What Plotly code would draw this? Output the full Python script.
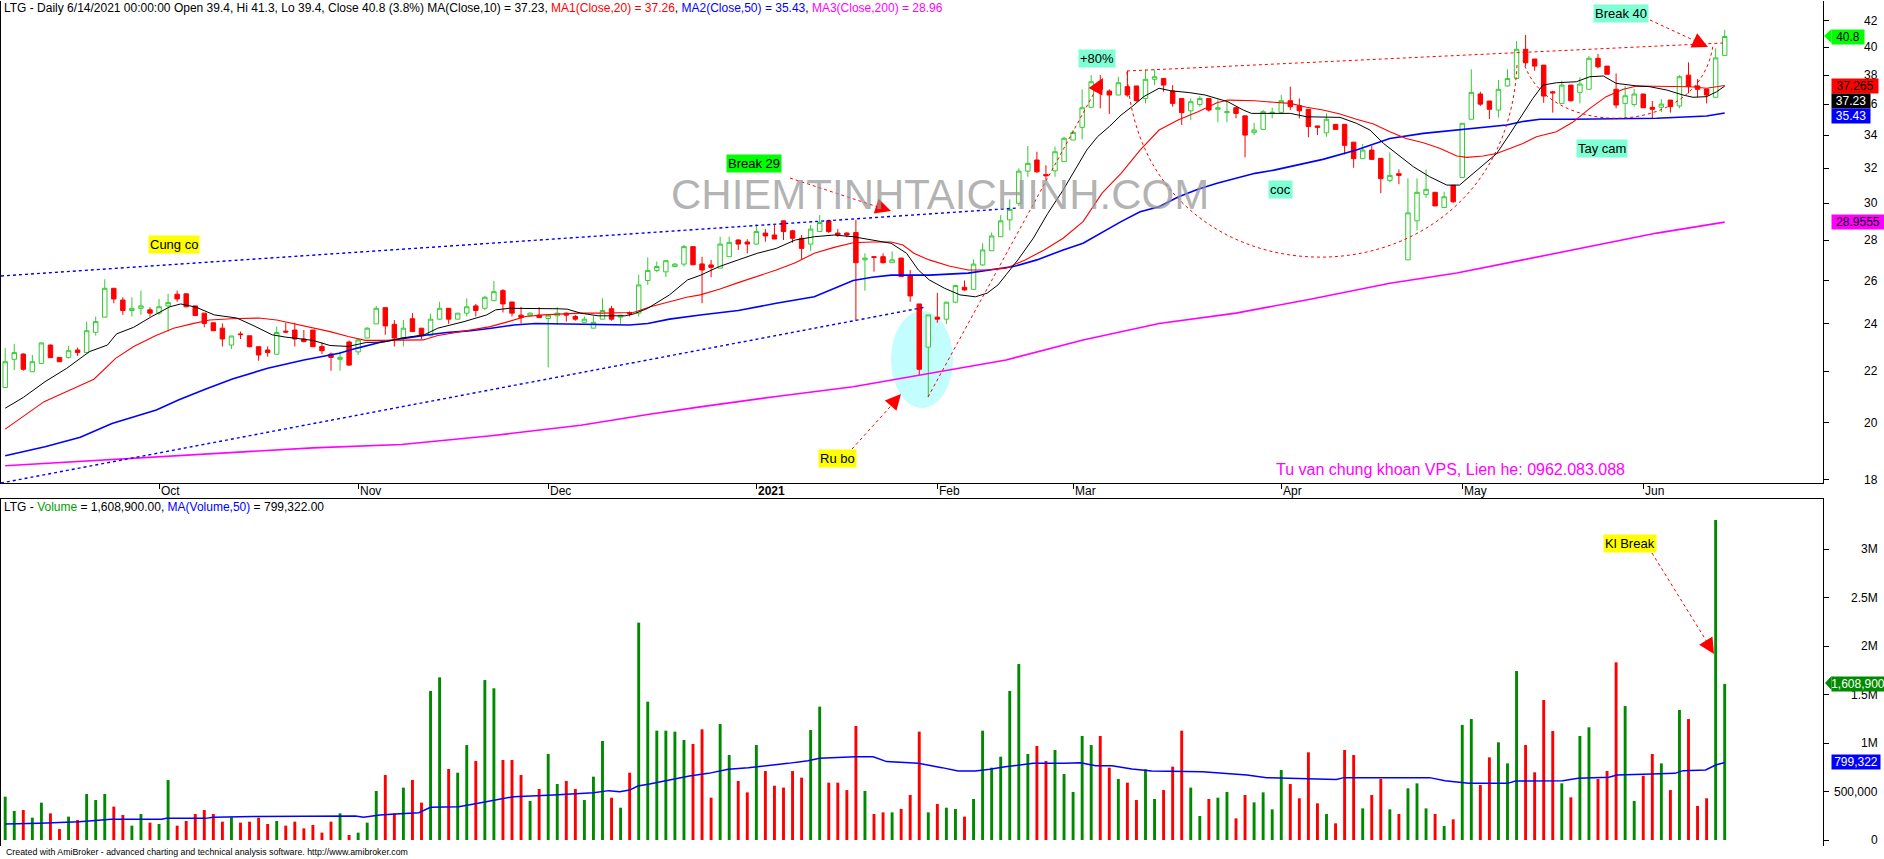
import math
import plotly.graph_objects as go

# ---------------- data ----------------
OPEN = [21.34, 22.48, 22.70, 21.97, 22.31, 23.08, 22.56, 22.56, 22.87, 22.76,
        23.63, 24.30, 25.63, 25.08, 24.60, 24.70, 24.63, 24.48, 24.81, 25.35,
        25.37, 24.81, 24.48, 24.05, 23.81, 23.08, 23.56, 23.48, 23.01, 22.87,
        22.69, 23.68, 23.73, 23.34, 23.73, 23.02, 22.70, 22.48, 23.21, 22.79,
        23.38, 24.00, 24.73, 23.98, 23.38, 24.23, 23.81, 23.48, 24.21, 24.70,
        24.21, 24.48, 24.81, 24.70, 25.05, 25.52, 24.99, 24.39, 24.37, 24.39,
        24.24, 24.36, 24.48, 24.33, 24.07, 23.81, 24.21, 24.68, 24.30, 24.51,
        24.48, 26.00, 26.49, 26.42, 26.68, 26.80, 27.68, 26.81, 26.76, 26.60,
        27.17, 28.02, 27.92, 27.81, 28.38, 28.28, 29.03, 28.50, 28.11, 27.81,
        28.46, 29.03, 28.38, 28.38, 28.41, 27.01, 27.17, 27.17, 26.87, 27.10,
        26.22, 24.90, 22.99, 24.30, 24.21, 24.98, 25.68, 25.58, 26.76, 27.47,
        28.19, 29.08, 29.98, 31.82, 32.48, 31.62, 31.84, 32.38, 33.70, 34.50,
        35.80, 37.53, 36.89, 36.62, 37.19, 37.24, 36.39, 37.70, 37.76, 36.89,
        36.39, 35.57, 35.99, 36.39, 35.67, 35.45, 35.77, 35.24, 34.18, 34.37,
        35.43, 35.47, 36.24, 35.90, 35.67, 34.59, 34.15, 34.69, 34.69, 33.57,
        32.56, 33.08, 32.58, 31.28, 31.67, 27.01, 29.03, 30.48, 30.60, 29.75,
        31.00, 31.45, 35.02, 36.69, 36.22, 35.62, 37.24, 37.76, 39.85, 39.14,
        38.70, 36.84, 36.06, 37.30, 36.80, 37.01, 39.19, 38.63, 37.01, 36.06,
        35.99, 36.69, 35.80, 35.80, 36.28, 35.89, 37.99, 37.24, 37.03, 36.47,
        39.40]
HIGH = [22.95, 23.13, 22.73, 22.66, 23.19, 23.10, 22.56, 23.05, 22.97, 24.10,
        24.33, 26.06, 25.63, 25.21, 25.21, 25.52, 24.75, 25.13, 25.37, 25.52,
        25.37, 24.81, 24.48, 24.05, 24.02, 23.47, 23.66, 23.48, 23.01, 23.02,
        23.88, 24.05, 24.05, 23.73, 23.73, 23.19, 22.76, 22.80, 23.28, 23.34,
        23.85, 24.81, 24.75, 24.17, 24.17, 24.48, 23.81, 24.45, 25.00, 24.70,
        24.48, 25.16, 24.90, 25.27, 25.98, 25.59, 24.99, 24.77, 24.51, 24.75,
        24.40, 24.75, 24.51, 24.40, 24.33, 24.36, 25.16, 24.81, 24.39, 24.56,
        26.28, 27.14, 26.93, 26.97, 26.85, 27.77, 27.68, 27.17, 27.01, 28.19,
        28.19, 28.06, 28.06, 28.85, 28.59, 28.85, 29.03, 28.55, 28.28, 28.81,
        29.34, 29.08, 28.59, 28.43, 29.08, 27.34, 27.20, 27.34, 27.43, 27.10,
        26.51, 24.90, 24.40, 25.42, 25.00, 25.79, 26.00, 27.04, 27.85, 28.41,
        29.34, 30.20, 31.98, 33.33, 32.98, 32.17, 33.29, 33.91, 34.33, 37.01,
        37.99, 38.00, 37.01, 37.88, 38.30, 37.24, 38.40, 38.40, 37.76, 37.30,
        36.39, 36.39, 36.55, 36.39, 36.32, 36.17, 35.84, 35.24, 34.79, 35.62,
        35.77, 36.62, 37.19, 36.39, 35.67, 34.59, 35.40, 34.69, 34.69, 33.57,
        33.45, 33.33, 32.58, 32.94, 31.92, 31.40, 31.40, 31.92, 30.60, 30.63,
        31.00, 34.76, 38.40, 36.84, 36.22, 37.65, 38.40, 40.46, 40.92, 39.14,
        38.70, 36.91, 37.60, 37.30, 37.84, 39.36, 39.51, 38.63, 38.11, 37.24,
        37.03, 36.69, 36.22, 36.34, 36.28, 37.99, 38.90, 37.72, 37.03, 39.93,
        41.30]
LOW = [21.34, 22.04, 22.01, 21.97, 22.31, 22.55, 22.38, 22.51, 22.62, 22.76,
       23.49, 24.30, 24.93, 24.40, 24.33, 24.40, 24.33, 24.40, 23.66, 25.00,
       24.75, 24.37, 23.85, 23.70, 23.02, 22.91, 23.34, 22.98, 22.42, 22.59,
       22.69, 23.59, 23.02, 23.19, 23.01, 22.70, 22.01, 22.01, 22.22, 22.66,
       23.38, 24.00, 23.52, 23.02, 23.02, 23.66, 23.34, 23.45, 24.17, 24.00,
       24.21, 24.33, 24.33, 24.63, 25.04, 24.51, 24.33, 24.02, 24.33, 24.26,
       22.15, 23.95, 24.10, 24.14, 24.07, 23.81, 24.21, 24.14, 24.00, 24.33,
       24.33, 25.79, 26.40, 26.17, 26.68, 26.68, 26.75, 24.93, 26.16, 26.60,
       27.17, 27.51, 27.34, 27.78, 27.93, 28.07, 28.02, 27.88, 27.04, 27.47,
       28.46, 28.38, 28.19, 28.16, 24.14, 25.52, 26.43, 26.83, 26.87, 26.19,
       25.00, 21.84, 20.96, 24.05, 24.00, 24.93, 25.52, 25.58, 26.71, 27.47,
       28.19, 28.52, 29.83, 31.49, 31.72, 31.30, 31.49, 32.38, 33.70, 33.74,
       35.80, 35.73, 35.36, 36.62, 36.51, 36.17, 36.06, 37.30, 36.84, 35.84,
       34.65, 34.97, 35.84, 35.51, 34.82, 34.82, 35.08, 32.64, 34.01, 34.37,
       35.08, 35.45, 35.62, 35.08, 33.87, 34.01, 33.91, 34.37, 32.82, 32.02,
       32.56, 32.48, 30.55, 31.17, 31.06, 27.01, 28.52, 30.29, 29.84, 29.75,
       30.01, 31.45, 35.02, 35.89, 35.03, 35.12, 37.19, 37.76, 38.63, 38.30,
       36.10, 35.45, 36.06, 36.17, 36.06, 37.01, 38.47, 38.05, 35.73, 35.02,
       35.84, 35.77, 35.03, 35.48, 35.45, 35.73, 36.73, 36.47, 36.06, 36.47,
       39.40]
CLOSE = [22.38, 22.76, 22.07, 22.38, 23.17, 22.55, 22.38, 22.84, 22.76, 23.70,
         24.10, 25.63, 25.13, 24.60, 24.70, 24.81, 24.48, 24.77, 24.96, 25.13,
         24.77, 24.37, 24.02, 23.70, 23.34, 23.47, 23.53, 23.01, 22.66, 22.76,
         23.62, 23.64, 23.34, 23.23, 23.01, 22.84, 22.56, 22.56, 22.24, 23.30,
         23.81, 24.70, 23.91, 23.38, 23.81, 23.66, 23.48, 24.21, 24.70, 24.21,
         24.48, 24.77, 24.60, 25.21, 25.47, 24.90, 24.48, 24.28, 24.48, 24.28,
         24.39, 24.48, 24.39, 24.21, 24.21, 24.07, 24.60, 24.21, 24.39, 24.45,
         25.79, 26.49, 26.68, 26.97, 26.80, 27.68, 26.77, 26.51, 26.64, 27.81,
         27.90, 27.81, 27.81, 28.46, 28.23, 28.07, 28.46, 28.11, 27.59, 28.59,
         28.94, 28.46, 28.28, 28.28, 26.87, 27.10, 27.14, 26.87, 27.01, 26.19,
         25.27, 22.07, 24.40, 24.21, 24.98, 25.76, 25.55, 26.80, 27.51, 28.23,
         29.03, 29.65, 31.82, 32.28, 31.78, 31.55, 32.98, 33.81, 34.18, 35.77,
         37.53, 37.01, 36.62, 37.46, 36.62, 36.24, 37.70, 37.88, 37.30, 36.06,
         35.45, 36.17, 36.39, 35.62, 35.77, 35.51, 35.40, 34.01, 34.33, 35.51,
         35.47, 36.24, 35.84, 35.57, 34.55, 34.50, 35.02, 34.37, 33.37, 32.56,
         33.08, 32.52, 31.38, 31.57, 31.57, 29.46, 30.60, 30.77, 29.84, 30.35,
         30.07, 34.76, 36.80, 36.01, 35.67, 37.01, 37.76, 39.85, 38.87, 38.63,
         36.55, 36.77, 37.30, 36.24, 37.37, 39.19, 38.58, 38.05, 35.95, 36.57,
         36.69, 35.77, 35.67, 36.01, 35.84, 37.88, 37.19, 37.01, 36.62, 39.22,
         40.80]
VOLUME = [447000, 299000, 309000, 230000, 385000, 275000, 113000, 241000, 206000, 474000,
          412000, 474000, 344000, 258000, 148000, 268000, 179000, 165000, 619000, 148000,
          196000, 268000, 309000, 268000, 189000, 234000, 179000, 189000, 230000, 165000,
          196000, 148000, 189000, 120000, 155000, 76000, 189000, 275000, 52000, 76000,
          179000, 505000, 670000, 275000, 540000, 619000, 385000, 1536000, 1677000, 732000,
          694000, 979000, 814000, 1649000, 1564000, 825000, 825000, 670000, 402000, 526000,
          887000, 577000, 608000, 526000, 412000, 653000, 1021000, 436000, 333000, 694000,
          2241000, 1426000, 1127000, 1127000, 1117000, 1031000, 990000, 1141000, 436000, 1196000,
          876000, 608000, 491000, 979000, 711000, 560000, 540000, 711000, 643000, 1134000,
          1375000, 591000, 591000, 515000, 1175000, 505000, 268000, 285000, 285000, 320000,
          464000, 1117000, 285000, 371000, 333000, 320000, 241000, 423000, 1127000, 746000,
          859000, 1536000, 1814000, 887000, 969000, 814000, 928000, 680000, 495000, 1072000,
          979000, 1072000, 746000, 629000, 591000, 412000, 729000, 423000, 515000, 756000,
          1127000, 540000, 247000, 423000, 436000, 495000, 223000, 464000, 388000, 491000,
          316000, 722000, 577000, 430000, 904000, 378000, 268000, 172000, 928000, 876000,
          326000, 464000, 629000, 316000, 268000, 533000, 584000, 326000, 268000, 144000,
          213000, 1186000, 1247000, 567000, 852000, 1007000, 790000, 1742000, 979000, 698000,
          1443000, 1124000, 584000, 440000, 1072000, 1162000, 629000, 711000, 1832000, 1381000,
          402000, 663000, 887000, 790000, 515000, 1340000, 1247000, 351000, 430000, 3299000,
          1608900]

MA10_BAR = [0, 2, 4.4, 6.8, 9.3, 11.3, 12.3, 14.2, 16.2, 18.2, 19.4, 21.1, 23.1, 25.6, 27.5,
            29.5, 31, 34, 35.9, 37.9, 39.9, 41.9, 43.8, 46.3, 47.8, 48.8, 50.7, 53.2, 54.2,
            55.7, 58.6, 61.1, 62.1, 63.6, 65.5, 68.5, 69.5, 71, 73.4, 75.4, 76.8, 78.9, 81,
            83.1, 85.2, 87.3, 89.4, 91.6, 93.7, 95.8, 97.9, 99.6, 100.9, 102.1, 103.8, 105.5,
            107.2, 108.5, 109.7, 110.6, 111.9, 113.6, 115.2, 116.9, 118.2, 119.5, 120.7, 122,
            123.3, 124.5, 125.8, 127.5, 128.8, 130.9, 132.6, 135.1, 136.8, 137.7, 139.4, 142,
            143.8, 147.5, 149.3, 150.8, 152.3, 153.7, 155.6, 157.4, 159.3, 160.7, 161.8, 163.3,
            164.8, 166.3, 167.7, 168.8, 169.9, 171.4, 173.6, 175.1, 176.6, 178, 180.3, 181.7,
            183.6, 185.4, 186.5, 188, 189.1, 190]
MA10_VAL = [20.54, 20.95, 21.57, 22.11, 22.80, 23.08, 23.56, 23.85, 24.33, 24.77, 24.90, 24.75,
            24.40, 24.26, 23.91, 23.52, 23.42, 23.28, 23.06, 23.02, 23.19, 23.21, 23.38, 23.52,
            23.81, 23.91, 24.10, 24.40, 24.63, 24.70, 24.70, 24.68, 24.66, 24.48, 24.36, 24.36,
            24.45, 24.70, 25.32, 26.03, 26.25, 26.68, 27.01, 27.34, 27.59, 28.02, 28.19, 28.28,
            28.19, 28.02, 27.85, 27.34, 26.51, 26.03, 25.63, 25.32, 25.23, 25.40, 25.79, 26.28,
            27.01, 28.11, 29.43, 30.73, 31.88, 33.08, 33.91, 34.55, 35.29, 35.84, 36.51, 37.08,
            36.91, 36.78, 36.62, 36.17, 35.62, 35.40, 35.40, 35.40, 35.18, 35.14, 34.76, 34.33,
            33.49, 32.87, 32.08, 31.49, 31.01, 31.01, 31.49, 32.17, 32.87, 34.12, 35.40, 36.39,
            37.30, 37.46, 37.53, 37.88, 37.93, 37.42, 37.24, 37.19, 36.96, 36.62, 36.47, 36.51,
            36.84, 37.23]
MA20_BAR = [0, 1.9, 4.3, 6.8, 9.8, 12.2, 14.2, 16.6, 18.6, 20.6, 22.6, 25, 28, 30, 31.9, 33.9,
            35.9, 37.9, 39.8, 41.8, 43.7, 46.2, 47.7, 49.7, 51.6, 53.6, 55.6, 57.5, 59.5, 61.5,
            63.5, 65.9, 69.4, 71.3, 73.3, 75.3, 76.8, 78.9, 81, 83.1, 85.2, 87.3, 89.4, 91.6,
            93.7, 95.8, 97.9, 99.2, 100.4, 102.1, 104.3, 106.4, 108.5, 110.6, 112.7, 114.8,
            116.9, 119.1, 121.2, 123.3, 125.4, 127.5, 129.6, 131.8, 133.9, 135.1, 138.1, 139.4,
            142, 143.8, 145.6, 147.5, 149.3, 151.2, 153, 154.8, 156.7, 158.5, 160.4, 161.5,
            163.3, 164.8, 166.3, 167.7, 169.2, 171.4, 173.2, 175.1, 176.9, 178.8, 180.3, 182.5,
            184.7, 186.2, 188, 190]
MA20_VAL = [19.76, 20.22, 20.79, 21.18, 21.67, 22.52, 23.02, 23.48, 23.81, 24.00, 24.17, 24.23,
            24.26, 24.17, 24.00, 23.85, 23.66, 23.45, 23.28, 23.28, 23.28, 23.30, 23.48, 23.62,
            23.73, 23.88, 24.10, 24.33, 24.40, 24.45, 24.48, 24.48, 24.51, 24.77, 25.00, 25.21,
            25.32, 25.58, 25.90, 26.19, 26.51, 26.87, 27.34, 27.64, 27.88, 27.92, 27.92, 27.76,
            27.34, 27.01, 26.71, 26.51, 26.51, 26.60, 27.01, 27.51, 28.11, 28.99, 30.55, 31.69,
            33.08, 34.33, 34.97, 35.51, 36.10, 36.28, 36.24, 36.17, 36.06, 35.80, 35.62, 35.36,
            35.02, 34.72, 34.22, 33.80, 33.53, 33.19, 32.72, 32.64, 32.72, 32.87, 33.19, 33.49,
            33.91, 34.22, 34.82, 35.73, 36.51, 37.01, 37.24, 37.24, 37.24, 37.19, 37.08, 37.27]
MA50_BAR = [0, 4.4, 8.3, 11.8, 16.7, 19.2, 22.1, 25.1, 29, 33, 36.9, 38.9, 41.8, 44.8, 46.8,
            48.8, 51.2, 53.7, 56.2, 58.6, 61.1, 63.6, 66, 69, 71, 73.4, 76.8, 81, 85.2, 89.4,
            93.7, 95.8, 97.9, 102.1, 106.4, 108.9, 111.4, 114, 116.9, 119.1, 121.2, 123.3,
            125.4, 127.5, 129.6, 131.8, 133.9, 136, 138.1, 140.2, 142, 145.6, 149.3, 153,
            156.7, 160.4, 162.6, 165.9, 167.7, 169.6, 173.2, 178.8, 182.5, 186.2, 188, 190]
MA50_VAL = [18.81, 19.13, 19.47, 19.97, 20.47, 20.86, 21.27, 21.68, 22.11, 22.45, 22.73, 22.95,
            23.23, 23.42, 23.52, 23.62, 23.69, 23.81, 23.95, 24.02, 24.00, 23.98, 23.98, 23.95,
            24.02, 24.21, 24.40, 24.60, 24.93, 25.23, 26.00, 26.16, 26.26, 26.26, 26.36, 26.51,
            26.68, 27.01, 27.51, 27.85, 28.41, 28.99, 29.52, 29.79, 30.34, 30.77, 31.11, 31.40,
            31.69, 31.88, 32.08, 32.52, 33.08, 33.80, 34.12, 34.33, 34.44, 34.65, 34.87, 35.02,
            35.02, 35.04, 35.08, 35.18, 35.23, 35.43]
MA200_BAR = [0, 14.2, 24.1, 34, 43.8, 53.7, 63.6, 71, 76.8, 85.2, 93.7, 102.1, 110.6, 119.1,
             127.5, 136, 144.2, 153, 160.4, 167.7, 175.1, 182.5, 190]
MA200_VAL = [18.47, 18.73, 18.91, 19.09, 19.21, 19.52, 19.90, 20.30, 20.59, 20.99, 21.37, 21.90,
             22.45, 23.30, 24.02, 24.48, 25.12, 25.87, 26.36, 27.01, 27.68, 28.38, 28.96]
VMA_BAR = [0, 3.8, 8.2, 11.7, 17.3, 17.8, 22.1, 23.0, 27.4, 38.7, 39.6, 41.4, 43.1, 45.7, 47.0,
           50.1, 51.8, 54.0, 56.2, 60.6, 62.8, 65.0, 66.7, 67.9, 69.0, 69.9, 71.2, 73.4, 75.6,
           77.7, 79.9, 82.1, 84.3, 86.5, 88.7, 90.0, 93.9, 95.9, 97.4, 100.9, 103.5, 105.3,
           107.2, 108.8, 110.5, 113.6, 117.0, 118.8, 120.5, 122.3, 124.5, 126.7, 132.3, 135.3,
           137.2, 139.4, 147.1, 147.9, 157.4, 159.1, 161.7, 166.0, 166.9, 172.1, 173.8, 177.2,
           178.1, 181.9, 184.5, 185.4, 187.9, 189.0, 190]
VMA_VAL = [165000, 172000, 189000, 213000, 213000, 223000, 223000, 234000, 241000, 247000,
           234000, 258000, 268000, 282000, 337000, 344000, 371000, 412000, 447000, 464000,
           474000, 488000, 509000, 498000, 515000, 557000, 577000, 619000, 660000, 687000,
           729000, 746000, 766000, 790000, 818000, 842000, 859000, 859000, 808000, 790000,
           746000, 711000, 711000, 729000, 756000, 790000, 790000, 797000, 766000, 766000,
           732000, 711000, 704000, 687000, 670000, 643000, 625000, 643000, 643000, 612000,
           584000, 584000, 608000, 612000, 636000, 646000, 670000, 680000, 687000, 715000,
           722000, 773000, 799322]

MONTH_LABELS = ["Oct", "Nov", "Dec", "<b>2021</b>", "Feb", "Mar", "Apr", "May", "Jun"]
MONTH_BARS = [17, 39, 60, 83, 103, 118, 141, 161, 181]
PRICE_TICKS = [18, 20, 22, 24, 26, 28, 30, 32, 34, 36, 38, 40, 42]
VOL_TICKS = [0, 500000, 1000000, 1500000, 2000000, 2500000, 3000000]
VOL_TICK_TEXT = ["0", "500,000", "1M", "1.5M", "2M", "2.5M", "3M"]

# ---------------- layout geometry (page pixels) ----------------
FONT = "Liberation Sans, Arial, sans-serif"
W, H = 1884, 859
LEFT, RIGHT, TOP, BOTTOM = 1, 1823, 1, 846


def PX(x):
    return (x - LEFT) / (RIGHT - LEFT)


def PY(y):
    return (BOTTOM - y) / (BOTTOM - TOP)


X_RANGE = [(LEFT - 5.2) / 9.05, (RIGHT - 5.2) / 9.05]
PRICE_RANGE = [(2045 - 483) / 1247, (2045 - TOP) / 1247]
VOL_RANGE = [(840 - BOTTOM) / 97 * 1e6, (840 - 499) / 97 * 1e6]

n = len(CLOSE)
idx = list(range(n))
vcolors = ["#008a00" if c >= o else "#ff0000" for o, c in zip(OPEN, CLOSE)]

fig = go.Figure()
fig.add_trace(go.Candlestick(
    x=idx, open=OPEN, high=HIGH, low=LOW, close=CLOSE, xaxis="x", yaxis="y",
    whiskerwidth=0,
    increasing=dict(line=dict(color="#33cc33", width=1), fillcolor="white"),
    decreasing=dict(line=dict(color="#ff0000", width=1), fillcolor="#ff0000"),
    hoverinfo="skip"))
for xs, ys, col, wd in [(MA200_BAR, MA200_VAL, "#ff00ff", 1.6),
                        (MA50_BAR, MA50_VAL, "#0000ff", 1.6),
                        (MA20_BAR, MA20_VAL, "#ff0000", 1.1),
                        (MA10_BAR, MA10_VAL, "#000000", 1.0)]:
    fig.add_trace(go.Scatter(x=xs, y=ys, mode="lines", xaxis="x", yaxis="y",
                             line=dict(color=col, width=wd), hoverinfo="skip"))
fig.add_trace(go.Bar(x=idx, y=VOLUME, marker=dict(color=vcolors, line=dict(width=0)),
                     width=0.32, xaxis="x2", yaxis="y2", hoverinfo="skip"))
fig.add_trace(go.Scatter(x=VMA_BAR, y=VMA_VAL, mode="lines", xaxis="x2", yaxis="y2",
                         line=dict(color="#0000ff", width=1.5), hoverinfo="skip"))

shapes = []
annotations = []

# cyan ellipse (below candles)
shapes.append(dict(type="circle", xref="paper", yref="paper", layer="below",
                   x0=PX(891), x1=PX(953), y0=PY(311), y1=PY(408),
                   fillcolor="#c4fdfd", line=dict(width=0)))


def dline(x0, y0, x1, y1, color="#ff0000", width=1):
    shapes.append(dict(type="line", xref="paper", yref="paper",
                       x0=PX(x0), y0=PY(y0), x1=PX(x1), y1=PY(y1),
                       line=dict(color=color, width=width, dash="dot")))


def dpath(pts, color="#ff0000"):
    (a, b), (c, d), (e, f), (g, h) = pts
    path = "M {:.5f},{:.5f} C {:.5f},{:.5f} {:.5f},{:.5f} {:.5f},{:.5f}".format(
        PX(a), PY(b), PX(c), PY(d), PX(e), PY(f), PX(g), PY(h))
    shapes.append(dict(type="path", xref="paper", yref="paper", path=path,
                       line=dict(color=color, width=1, dash="dot")))


def head(tx, ty, fx, fy):
    dx, dy = tx - fx, ty - fy
    d = math.hypot(dx, dy)
    annotations.append(dict(x=PX(tx), y=PY(ty), xref="paper", yref="paper",
                            ax=-dx / d * 9, ay=-dy / d * 9, text="", showarrow=True,
                            arrowhead=2, arrowsize=2.4, arrowwidth=1.3,
                            arrowcolor="#ff0000", standoff=0))


# blue dotted channel lines
dline(1, 276, 1018, 208, "#0000ff", 1.4)
dline(1, 483, 926, 307, "#0000ff", 1.4)
# red resistance line
dline(1127, 71, 1723, 43)
# cup and handle arcs
dpath([(1127, 72), (1140, 320), (1505, 320), (1517, 65)])
dpath([(1523, 60), (1545, 140), (1700, 140), (1713, 45)])
# arrows
dline(852, 449, 899, 397); head(901, 394, 852, 449)
dline(928, 397, 1099, 84); head(1103, 78, 928, 397)
dline(790, 178, 887, 210); head(891, 211, 790, 178)
dline(1650, 20, 1704, 45); head(1708, 47, 1650, 20)
dline(1652, 553, 1712, 650); head(1714, 654, 1652, 553)

# value tag pointers
shapes.append(dict(type="path", xref="paper", yref="paper",
                   path="M {},{} L {},{} L {},{} Z".format(PX(1824), PY(36), PX(1831.5), PY(29), PX(1831.5), PY(43)),
                   fillcolor="#00ff00", line=dict(width=0)))
shapes.append(dict(type="path", xref="paper", yref="paper",
                   path="M {},{} L {},{} L {},{} Z".format(PX(1825), PY(683), PX(1831.5), PY(676), PX(1831.5), PY(690)),
                   fillcolor="#008a00", line=dict(width=0)))


def text(t, x, y, size=12, color="black", anchor="left", bg=None, **kw):
    a = dict(text=t, x=PX(x), y=PY(y), xref="paper", yref="paper", xanchor=anchor,
             yanchor="middle", showarrow=False,
             font=dict(family=FONT, size=size, color=color))
    if bg:
        a["bgcolor"] = bg
        a["borderpad"] = 1
    a.update(kw)
    annotations.append(a)


# headers
text("LTG - Daily 6/14/2021 00:00:00 Open 39.4, Hi 41.3, Lo 39.4, Close 40.8 (3.8%) "
     "MA(Close,10) = 37.23, <span style='color:#ff0000'>MA1(Close,20) = 37.26</span>, "
     "<span style='color:#0000ff'>MA2(Close,50) = 35.43</span>, "
     "<span style='color:#ff00ff'>MA3(Close,200) = 28.96</span>", 2, 8)
text("LTG - <span style='color:#00a000'>Volume</span> = 1,608,900.00, "
     "<span style='color:#0000ff'>MA(Volume,50)</span> = 799,322.00", 2, 507)
text("Created with AmiBroker - advanced charting and technical analysis software. http://www.amibroker.com",
     4, 852, size=8.8)

# watermark
text("CHIEMTINHTAICHINH.COM", 940, 194, size=42, color="rgba(150,150,150,0.72)", anchor="center")

# label boxes
text("Cung co", 174, 244, size=13, bg="#ffff00", anchor="center")
text("Break 29", 754, 164, size=13, bg="#00ff00", anchor="center")
text("+80%", 1097, 59, size=13, bg="#7fffd4", anchor="center")
text("coc", 1280, 190, size=13, bg="#7fffd4", anchor="center")
text("Ru bo", 837, 458, size=13, bg="#ffff00", anchor="center")
text("Tay cam", 1602, 148, size=13, bg="#7fffd4", anchor="center")
text("Break 40", 1621, 14, size=13, bg="#7fffd4", anchor="center")
text("Kl Break", 1630, 543, size=13, bg="#ffff00", anchor="center")
text("Tu van chung khoan VPS, Lien he: 0962.083.088", 1450, 469, size=16,
     color="#ff00ff", anchor="center")

# month labels
for lab, b in zip(MONTH_LABELS, MONTH_BARS):
    annotations.append(dict(text=lab, x=b, xref="x", y=PY(491), yref="paper",
                            xanchor="left", yanchor="middle", showarrow=False,
                            font=dict(family=FONT, size=12, color="black")))

# right axis labels
for v in PRICE_TICKS:
    annotations.append(dict(text=str(v), x=PX(1880), xref="paper", y=math.log10(v), yref="y",
                            xanchor="right", yanchor="middle", showarrow=False,
                            font=dict(family=FONT, size=12, color="black")))
for v, t in zip(VOL_TICKS, VOL_TICK_TEXT):
    annotations.append(dict(text=t, x=PX(1880), xref="paper", y=v, yref="y2",
                            xanchor="right", yanchor="middle", showarrow=False,
                            font=dict(family=FONT, size=12, color="black")))


def tag(t, value, ref, bg, fg, width, yshift=0):
    yv = math.log10(value) if ref == "y" else value
    annotations.append(dict(text=t, x=PX(1831), xref="paper", y=yv, yref=ref, yshift=yshift,
                            xanchor="left", yanchor="middle", showarrow=False,
                            bgcolor=bg, borderpad=0, width=width, height=14, align="center",
                            font=dict(family=FONT, size=12, color=fg)))


tag("40.8", CLOSE[-1], "y", "#00ff00", "black", 32)
tag("37.265", 37.265, "y", "#ff0000", "black", 46)
tag("37.23", 37.23, "y", "#000000", "white", 38, yshift=-15)
tag("35.43", 35.43, "y", "#0000ff", "white", 38, yshift=-3)
tag("28.9555", 28.9555, "y", "#ff00ff", "black", 52)
tag("1,608,900", VOLUME[-1], "y2", "#008a00", "white", 52)
tag("799,322", 799322, "y2", "#0000ff", "white", 48)

axis_common = dict(showgrid=False, zeroline=False, fixedrange=True)
fig.update_layout(
    width=W, height=H, paper_bgcolor="white", plot_bgcolor="white", showlegend=False,
    margin=dict(l=LEFT, r=W - RIGHT, t=TOP, b=H - BOTTOM),
    xaxis=dict(domain=[0, 1], anchor="y", range=X_RANGE, showline=True, linecolor="black",
               linewidth=1, ticks="outside", tickvals=MONTH_BARS, ticklen=5, tickcolor="black",
               showticklabels=False, rangeslider=dict(visible=False), **axis_common),
    yaxis=dict(domain=[PY(483), 1], anchor="x", type="log", range=PRICE_RANGE, side="right",
               showline=True, mirror=True, linecolor="black", linewidth=1, ticks="outside",
               tickvals=PRICE_TICKS, ticklen=5, tickcolor="black", showticklabels=False,
               **axis_common),
    xaxis2=dict(domain=[0, 1], anchor="y2", range=X_RANGE, side="top", showline=True,
                linecolor="black", linewidth=1, showticklabels=False, ticks="", **axis_common),
    yaxis2=dict(domain=[0, PY(499)], anchor="x2", range=VOL_RANGE, side="right",
                showline=True, mirror=True, linecolor="black", linewidth=1, ticks="outside",
                tickvals=VOL_TICKS, ticklen=5, tickcolor="black", showticklabels=False,
                **axis_common),
    shapes=shapes, annotations=annotations,
)

fig.write_html("out.html", config={"displayModeBar": False},
               post_script="document.body.style.margin='0';document.body.style.overflow='hidden';")
